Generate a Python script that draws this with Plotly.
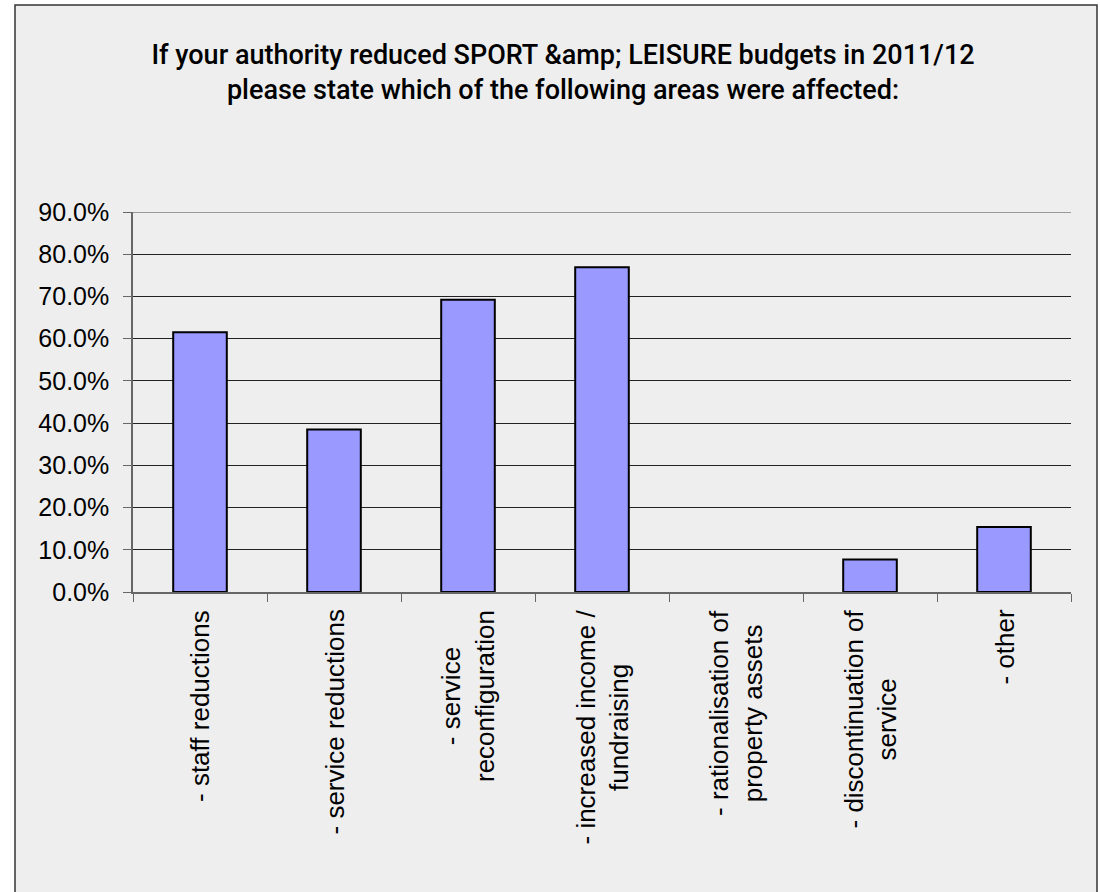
import plotly.graph_objects as go

categories = [
    "- staff reductions",
    "- service reductions",
    "- service<br>reconfiguration",
    "- increased income /<br>fundraising",
    "- rationalisation of<br>property assets",
    "- discontinuation of<br>service",
    "- other",
]
values = [0.615, 0.385, 0.692, 0.769, 0.0, 0.077, 0.154]
y_ticks = [0, 0.1, 0.2, 0.3, 0.4, 0.5, 0.6, 0.7, 0.8, 0.9]

W, H = 1100, 892
L, R, T, B = 133, 29, 212, 300
pw, ph = W - L - R, H - T - B

def px_x(x):
    return (x - L) / pw

def px_y(y):
    return 1 - (y - T) / ph

font = "Liberation Sans, Arial, sans-serif"

fig = go.Figure()
fig.add_trace(go.Bar(
    x=categories, y=values,
    marker=dict(color="#9999FF",
                line=dict(color="#000000", width=[2 if v > 0 else 0 for v in values])),
    width=0.4,
))

fig.add_shape(type="rect", xref="paper", yref="paper", layer="below",
              x0=px_x(15), x1=px_x(1097), y0=px_y(5), y1=px_y(960),
              fillcolor="#EEEEEE", line=dict(color="#333333", width=1.5))
# top gridline (at range edge)
fig.add_shape(type="line", xref="paper", yref="y", layer="below",
              x0=px_x(125), x1=1, y0=y_ticks[-1], y1=y_ticks[-1],
              line=dict(color="#444444", width=1.2))

for c in categories:
    fig.add_annotation(x=c, y=0, xref="x", yref="y", text=c, textangle=-90,
                       showarrow=False, xanchor="center", yanchor="top",
                       yshift=-16, align="center",
                       font=dict(size=26, family=font, color="#000000"))

fig.update_layout(
    width=W, height=H,
    margin=dict(l=L, r=R, t=T, b=B, pad=0),
    paper_bgcolor="#FFFFFF",
    plot_bgcolor="rgba(0,0,0,0)",
    showlegend=False,
    bargap=0.6,
    title=dict(
        text="If your authority reduced SPORT &amp;amp; LEISURE budgets in 2011/12<br>please state which of the following areas were affected:",
        x=563 / W, xanchor="center", y=1 - 64 / H, yanchor="top",
        font=dict(family="Roboto, Liberation Sans, sans-serif", size=27, color="#000000", weight=500),
    ),
    font=dict(family=font, color="#000000"),
    xaxis=dict(
        showticklabels=False,
        showline=True, linecolor="#666666", linewidth=1.5,
        ticks="outside", ticklen=8, tickcolor="#666666",
        tickson="boundaries", showgrid=False,
    ),
    yaxis=dict(
        range=[0, 0.9], tickvals=y_ticks, tickformat=".1%",
        tickfont=dict(size=25, family=font),
        showline=True, linecolor="#666666", linewidth=1.5,
        ticks="outside", ticklen=8, tickcolor="#666666",
        showgrid=True, gridcolor="#222222", gridwidth=1,
        zeroline=False, ticklabelstandoff=9,
    ),
)
fig.write_html("out.html")
